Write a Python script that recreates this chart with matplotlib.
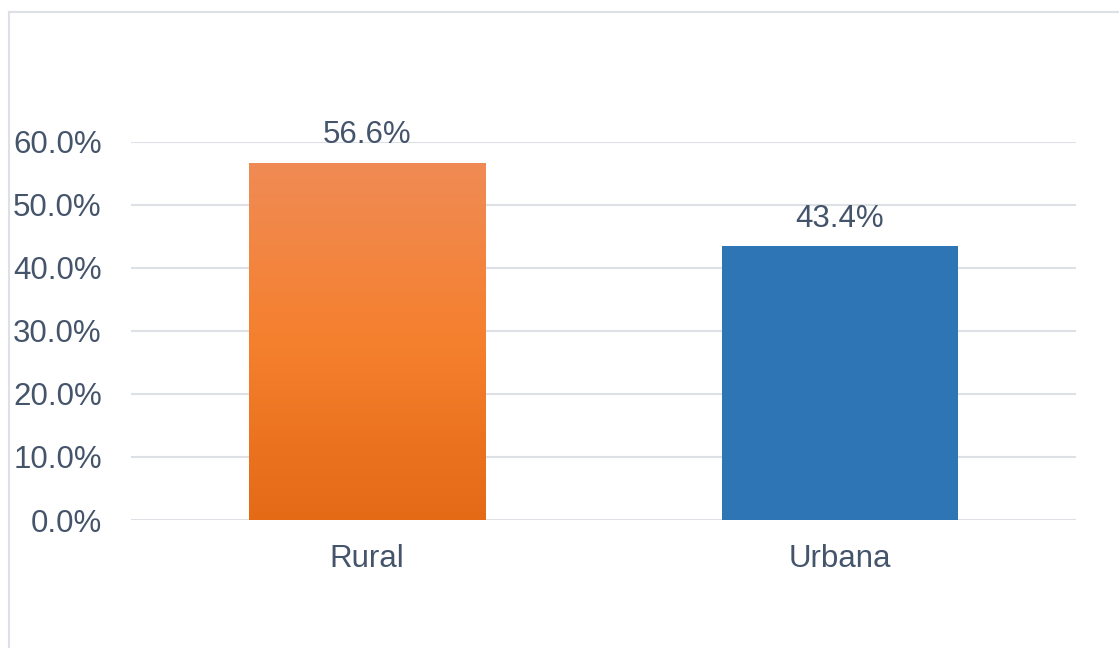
import matplotlib
matplotlib.use("Agg")
import matplotlib.pyplot as plt
import numpy as np
from matplotlib.colors import LinearSegmentedColormap
from matplotlib.lines import Line2D

categories = ["Rural", "Urbana"]
values = [56.6, 43.4]
yticks = [0, 10, 20, 30, 40, 50, 60]

plt.rcParams['font.family'] = ['Liberation Sans', 'DejaVu Sans']
text_color = "#44546A"
grid_color = "#DDE1E6"

W, H = 1119, 648
fig = plt.figure(figsize=(W / 100, H / 100), dpi=100)
fig.patch.set_facecolor("white")

left, right = 131 / W, 1076 / W
bottom = (H - 520) / H
top = (H - 141.5) / H
ax = fig.add_axes([left, bottom, right - left, top - bottom])

x = np.arange(len(categories))
bars = ax.bar(x, values, width=0.5, color=["#F5802E", "#2E75B6"], zorder=3)

# gradient on the orange bar
cmap = LinearSegmentedColormap.from_list("og", ["#E46A16", "#F5802E", "#F08B55"])
b = bars[0]
bx, by = b.get_x(), b.get_y()
bw, bh = b.get_width(), b.get_height()
grad = np.linspace(0, 1, 256).reshape(-1, 1)
im = ax.imshow(grad, cmap=cmap, origin="lower", aspect="auto",
               extent=[bx, bx + bw, by, by + bh], zorder=4)
im.set_clip_path(b)

ax.set_xlim(-0.5, 1.5)
ax.set_ylim(0, 60)
ax.set_yticks(yticks)
ax.set_yticklabels([f"{v:.1f}%" for v in yticks])
ax.set_xticks(x)
ax.set_xticklabels(categories)
ax.tick_params(axis="both", length=0, labelsize=22.5, colors=text_color)
ax.tick_params(axis="y", pad=21)
ax.tick_params(axis="x", pad=17)
ax.yaxis.grid(True, color=grid_color, linewidth=1.5, zorder=0)
ax.set_axisbelow(True)
for s in ax.spines.values():
    s.set_visible(False)

for xi, v in zip(x, values):
    ax.annotate(f"{v:.1f}%", (xi, v), xytext=(0, 9), textcoords="offset points",
                ha="center", va="bottom", fontsize=22.5, color=text_color,
                annotation_clip=False)

# outer border (chart area frame)
fig.add_artist(Line2D([9 / W, 9 / W], [0, (H - 12) / H], color=grid_color,
                      linewidth=1.5, transform=fig.transFigure))
fig.add_artist(Line2D([9 / W, 1], [(H - 12) / H, (H - 12) / H], color=grid_color,
                      linewidth=1.5, transform=fig.transFigure))

fig.savefig("out.png", dpi=100)
